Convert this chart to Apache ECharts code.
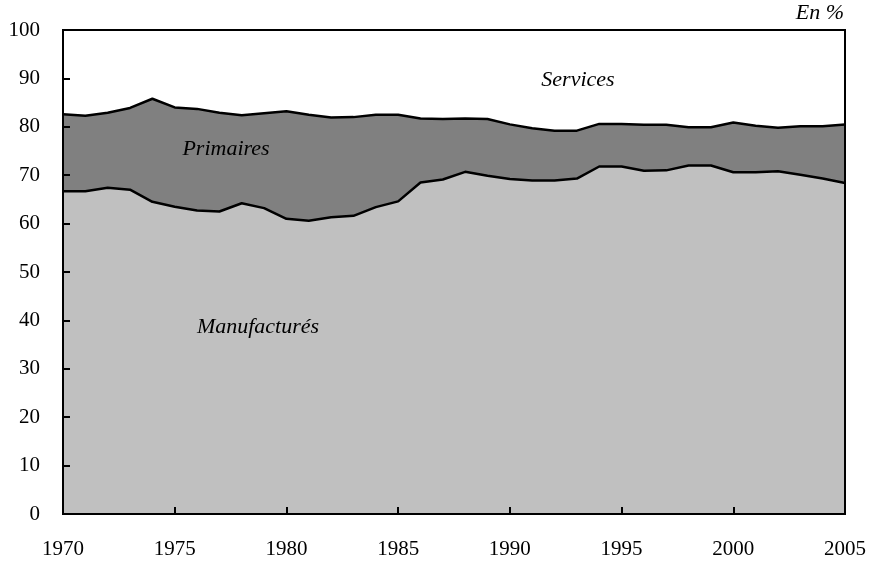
<!DOCTYPE html>
<html>
<head>
<meta charset="utf-8">
<script src="https://cdn.jsdelivr.net/npm/echarts@6/dist/echarts.min.js"></script>
<style>
  html, body { margin: 0; padding: 0; background: #fff; }
  #main { width: 875px; height: 565px; }
</style>
</head>
<body>
<div id="main"></div>
<script>
// années 1970-2005
var years = ['1970','1971','1972','1973','1974','1975','1976','1977','1978','1979','1980','1981','1982','1983',
  '1984','1985','1986','1987','1988','1989','1990','1991','1992','1993','1994','1995','1996','1997','1998',
  '1999','2000','2001','2002','2003','2004','2005'];
// parts en %
var manufactures = [66.7,66.7,67.4,67.0,64.5,63.5,62.7,62.5,64.2,63.2,61.0,60.6,61.3,61.6,63.4,64.6,68.5,69.1,
  70.7,69.9,69.2,68.9,68.9,69.3,71.8,71.8,70.9,71.0,72.0,72.0,70.6,70.6,70.8,70.1,69.3,68.4];
var primaires = [15.9,15.6,15.5,16.9,21.3,20.5,21.0,20.4,18.2,19.6,22.2,21.9,20.6,20.4,19.1,17.9,13.2,12.5,
  11.0,11.7,11.3,10.8,10.3,9.9,8.8,8.8,9.5,9.4,7.9,7.9,10.3,9.6,9.0,10.0,10.8,12.1];
var services = [17.4,17.7,17.1,16.1,14.2,16.0,16.3,17.1,17.6,17.2,16.8,17.5,18.1,18.0,17.5,17.5,18.3,18.4,
  18.3,18.4,19.5,20.3,20.8,20.8,19.4,19.4,19.6,19.6,20.1,20.1,19.1,19.8,20.2,19.9,19.9,19.5];

var font = '"Liberation Serif", "Times New Roman", serif';

var chart = echarts.init(document.getElementById('main'));
chart.setOption({
  animation: false,
  backgroundColor: '#fff',
  grid: {
    left: 63, right: 30, top: 30, bottom: 51, z: 20,
    show: true, borderColor: '#000', borderWidth: 2, backgroundColor: 'transparent'
  },
  xAxis: {
    type: 'category', data: years, boundaryGap: false, z: 20,
    axisLine: { show: true, lineStyle: { color: '#000', width: 2 } },
    axisTick: { show: true, inside: true, length: 7, interval: 4, lineStyle: { color: '#000', width: 2 } },
    axisLabel: { color: '#000', fontFamily: font, fontSize: 21, margin: 25, interval: 4 },
    splitLine: { show: false }
  },
  yAxis: {
    type: 'value', min: 0, max: 100, interval: 10, z: 20,
    axisLine: { show: true, lineStyle: { color: '#000', width: 2 } },
    axisTick: { show: true, inside: true, length: 7, lineStyle: { color: '#000', width: 2 } },
    axisLabel: { color: '#000', fontFamily: font, fontSize: 21, margin: 23 },
    splitLine: { show: false }
  },
  series: [
    {
      name: 'Manufacturés', type: 'line', stack: 'total', z: 4,
      data: manufactures, symbol: 'none',
      lineStyle: { color: '#000', width: 2.5 },
      areaStyle: { color: '#c0c0c0', opacity: 1 }
    },
    {
      name: 'Primaires', type: 'line', stack: 'total', z: 3,
      data: primaires, symbol: 'none',
      lineStyle: { color: '#000', width: 2.5 },
      areaStyle: { color: '#808080', opacity: 1 }
    },
    {
      name: 'Services', type: 'line', stack: 'total', z: 2,
      data: services, symbol: 'none',
      lineStyle: { width: 0 },
      areaStyle: { color: '#fff', opacity: 1 }
    }
  ],
  graphic: [
    { type: 'text', z: 100, right: 31, top: 2, style: { text: 'En %', font: 'italic 22px ' + font, fill: '#000' } },
    { type: 'text', z: 100, x: 578, y: 80, style: { text: 'Services', font: 'italic 22px ' + font, fill: '#000', align: 'center', verticalAlign: 'middle' } },
    { type: 'text', z: 100, x: 226, y: 149, style: { text: 'Primaires', font: 'italic 22px ' + font, fill: '#000', align: 'center', verticalAlign: 'middle' } },
    { type: 'text', z: 100, x: 258, y: 327, style: { text: 'Manufacturés', font: 'italic 22px ' + font, fill: '#000', align: 'center', verticalAlign: 'middle' } }
  ]
});
</script>
</body>
</html>
